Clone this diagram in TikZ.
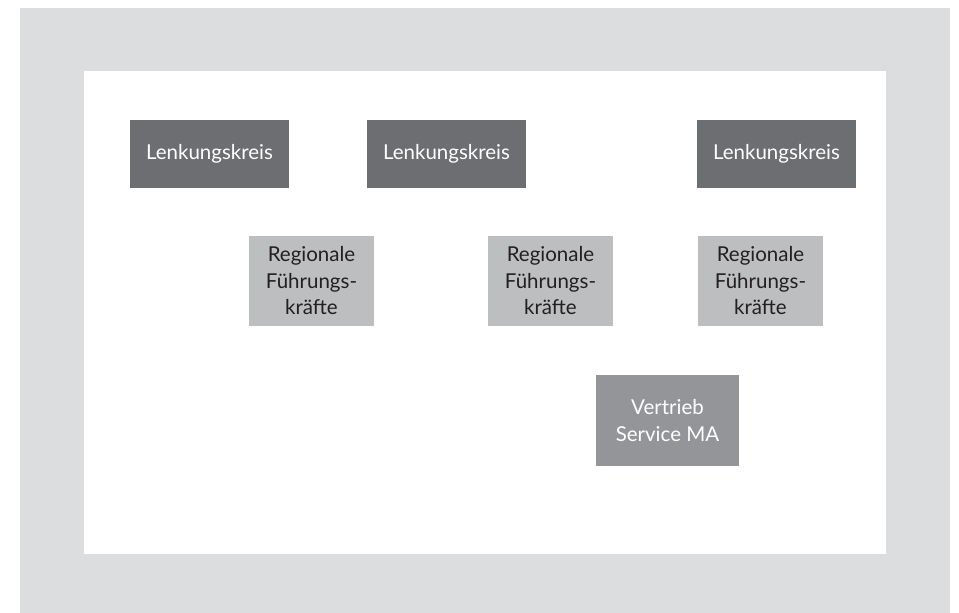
\documentclass[tikz,border=0pt]{standalone}
\usepackage{fontspec}
\setmainfont{Lato}
\definecolor{framegray}{HTML}{DCDDDF}
\definecolor{darkbox}{HTML}{6D6E71}
\definecolor{lightbox}{HTML}{BCBEC0}
\definecolor{midbox}{HTML}{939598}
\definecolor{txtdark}{HTML}{231F20}
\begin{document}
\begin{tikzpicture}[x=1pt,y=-1pt,
  boxbase/.style={rectangle, inner sep=0pt, align=center, font=\fontsize{20.5}{26.5}\selectfont},
  lenk/.style={boxbase, fill=darkbox, text=white, minimum width=159pt, minimum height=68pt},
  regio/.style={boxbase, fill=lightbox, text=txtdark, minimum width=125pt, minimum height=90pt},
  vertr/.style={boxbase, fill=midbox, text=white, minimum width=143pt, minimum height=91pt}]
\useasboundingbox (0,0) rectangle (959,613);
\fill[framegray] (20,8) rectangle (950,613);
\fill[white] (84,71) rectangle (886,554);
\node[lenk] (lk1) at (209.5,154) {Lenkungskreis};
\node[lenk] (lk2) at (446.5,154) {Lenkungskreis};
\node[lenk] (lk3) at (776.5,154) {Lenkungskreis};
\node[regio] (rf1) at (311.5,281) {Regionale\\Führungs-\\kräfte};
\node[regio] (rf2) at (550.5,281) {Regionale\\Führungs-\\kräfte};
\node[regio] (rf3) at (760.5,281) {Regionale\\Führungs-\\kräfte};
\node[vertr] (vs) at (667.5,420.5) {Vertrieb\\Service MA};
\end{tikzpicture}
\end{document}
